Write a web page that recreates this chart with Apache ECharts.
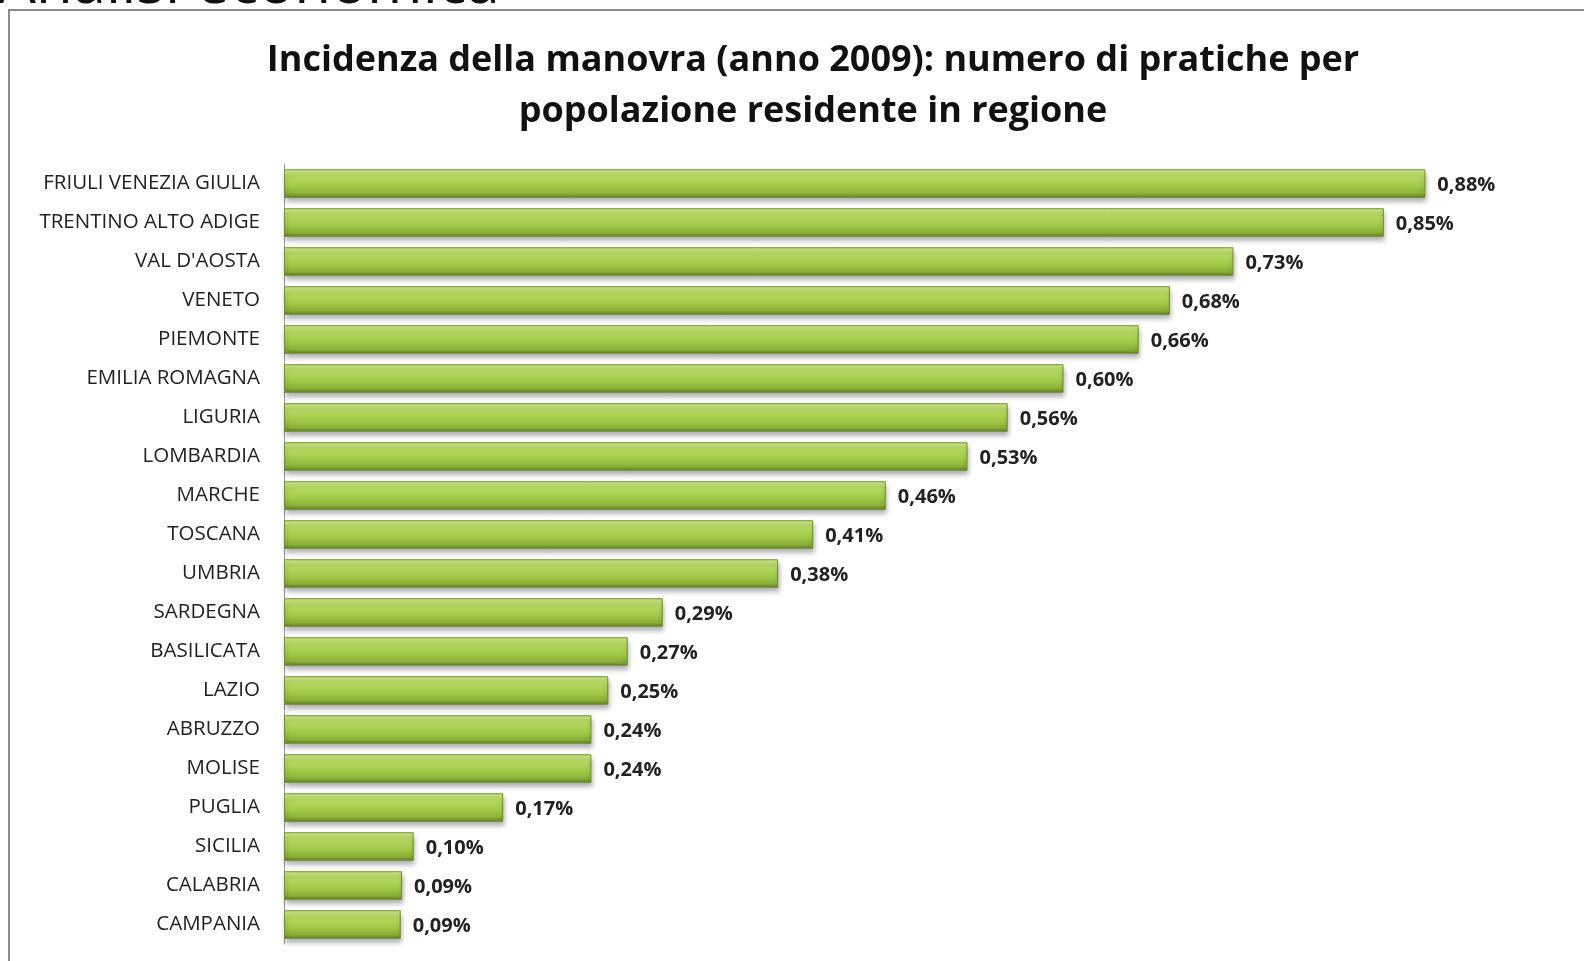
<!DOCTYPE html>
<html>
<head>
<meta charset="utf-8">
<script src="https://cdn.jsdelivr.net/npm/echarts@6/dist/echarts.min.js"></script>
<style>
  html, body { margin: 0; padding: 0; background: #fff; }
  #chart { width: 1584px; height: 961px; }
</style>
</head>
<body>
<div id="chart"></div>
<script>
// regioni, dall'alto verso il basso come nel grafico
const regions = [
  'FRIULI VENEZIA GIULIA', 'TRENTINO ALTO ADIGE', "VAL D'AOSTA", 'VENETO', 'PIEMONTE',
  'EMILIA ROMAGNA', 'LIGURIA', 'LOMBARDIA', 'MARCHE', 'TOSCANA',
  'UMBRIA', 'SARDEGNA', 'BASILICATA', 'LAZIO', 'ABRUZZO',
  'MOLISE', 'PUGLIA', 'SICILIA', 'CALABRIA', 'CAMPANIA'
]
const incidence = [
  0.880, 0.848, 0.732, 0.683, 0.659,
  0.601, 0.558, 0.527, 0.464, 0.408,
  0.381, 0.292, 0.265, 0.250, 0.237,
  0.237, 0.169, 0.100, 0.091, 0.090
]
const titleLines = [
  'Incidenza della manovra (anno 2009): numero di pratiche per',
  'popolazione residente in regione'
]
const slideTitle = 'Analisi economica'

const chart = echarts.init(document.getElementById('chart'))

const barColor = new echarts.graphic.LinearGradient(0, 0, 0, 1, [
  { offset: 0, color: '#cfe98c' },
  { offset: 0.25, color: '#b6da62' },
  { offset: 0.6, color: '#a0c947' },
  { offset: 0.85, color: '#89b036' },
  { offset: 1, color: '#5f7f22' }
])

const option = {
  backgroundColor: '#fff',
  animation: false,
  graphic: [
    {
      type: 'rect',
      shape: { x: 9, y: 10, width: 1700, height: 1000 },
      style: { fill: 'none', stroke: '#8a8a8a', lineWidth: 2 }
    },
    {
      type: 'text',
      x: -2,
      y: -14,
      z: 10,
      style: {
        text: slideTitle,
        fontFamily: '"Open Sans", sans-serif',
        fontSize: 60,
        verticalAlign: 'middle',
        fill: '#111'
      }
    }
  ],
  title: {
    text: titleLines.join('\n'),
    left: 808,
    top: 30,
    textAlign: 'center',
    textStyle: {
      fontFamily: '"Open Sans", sans-serif',
      fontSize: 36,
      fontWeight: 'bold',
      color: '#111',
      lineHeight: 51
    }
  },
  grid: {
    left: 284,
    right: 3,
    top: 164,
    bottom: 17
  },
  xAxis: {
    type: 'value',
    min: 0,
    max: 1,
    show: false
  },
  yAxis: {
    type: 'category',
    inverse: true,
    data: regions,
    axisTick: { show: false },
    axisLine: { lineStyle: { color: '#999', width: 1 } },
    axisLabel: {
      margin: 24,
      fontFamily: '"Open Sans", sans-serif',
      fontSize: 20.5,
      color: '#222'
    }
  },
  series: [{
    type: 'bar',
    data: incidence,
    barCategoryGap: '27%',
    itemStyle: {
      color: barColor,
      borderColor: '#6e8f2c',
      borderWidth: 1,
      shadowColor: 'rgba(0,0,0,0.35)',
      shadowBlur: 5,
      shadowOffsetX: 1,
      shadowOffsetY: 4
    },
    label: {
      show: true,
      position: 'right',
      distance: 12,
      offset: [0, 2],
      fontFamily: '"Open Sans", sans-serif',
      fontSize: 20,
      fontWeight: 'bold',
      color: '#222',
      formatter: p => p.value.toFixed(2).replace('.', ',') + '%'
    }
  }]
}

chart.setOption(option)
</script>
</body>
</html>
